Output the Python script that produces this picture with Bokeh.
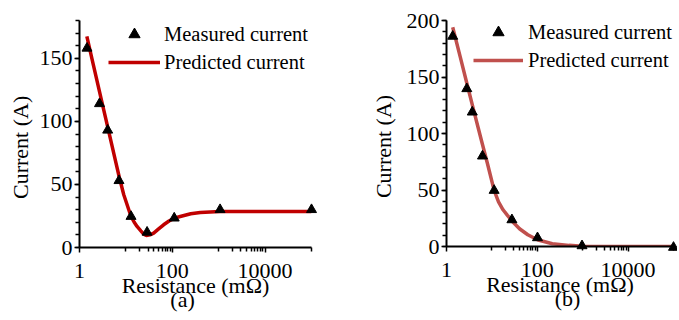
import math
from bokeh.plotting import figure
from bokeh.layouts import row
from bokeh.models import Range1d, FixedTicker, Legend, LegendItem
from bokeh.core.properties import value
from bokeh.embed import file_html
from bokeh.resources import INLINE

# ---- data ----
x_ticks = [1, 100, 10000]
x_tick_labels = ["1", "100", "10000"]

# panel (a)
a_meas_x = [1.45, 2.7, 4.05, 7.1, 12.9, 28.6, 110, 1070, 100000]
a_meas_y = [158, 114, 93, 53, 24.6, 12.1, 23.3, 30, 30]
a_pred_x = [1.44, 2.0, 3.0, 4.0, 5.0, 6.0, 7.14, 9.0, 12.9, 15, 17.4, 21, 24.2, 27.6,
            33, 39.7, 50, 65, 85, 110, 148, 250, 400, 1070, 10000, 100000]
a_pred_y = [167.5, 144.4, 116.3, 96.4, 81, 68.3, 56.3, 41.8, 24.6, 20.2, 16.7, 13.2, 10.6, 9.5,
            10.0, 11.4, 14.5, 18, 21, 23.3, 24.6, 26.8, 27.8, 28.6, 28.6, 28.6]

# panel (b)
b_meas_x = [1.37, 2.8, 3.7, 6.2, 11.2, 27.6, 101, 966, 100000]
b_meas_y = [186, 139.6, 118.9, 80, 49.6, 23.6, 7.7, 0.6, -0.8]
b_pred_x = [1.37, 2.0, 3.0, 4.0, 5.0, 6.0, 8.0, 11.2, 14, 17.6, 22, 27.6, 40.6, 61.7,
            101, 214, 500, 1000, 10000, 100000]
b_pred_y = [194, 168, 139.8, 120, 104.9, 92.5, 73.2, 49.6, 39.5, 32.5, 27.5, 22.6, 15.7, 10.4,
            6.0, 2.4, 1.0, 0.3, 0, 0]

FONT = "Liberation Serif"
TICK_FS = "22px"
LABEL_FS = "22px"
LEG_FS = "20.5px"
FIG_H = 312


def make_panel(meas_x, meas_y, pred_x, pred_y, line_color, y_max, y_major,
               fig_w, border_left, frame_w, frame_top, frame_h,
               leg_x, leg_top, glyph_w, standoff,
               ylabel_x, ylabel_y, letter, letter_x, letter_y):
    p = figure(x_axis_type="log", x_range=Range1d(1, 100000), y_range=Range1d(0, y_max),
               frame_width=frame_w, frame_height=frame_h,
               min_border_left=border_left, min_border_right=fig_w - border_left - frame_w,
               min_border_top=frame_top, min_border_bottom=FIG_H - frame_top - frame_h,
               output_backend="svg", toolbar_location=None)
    p.outline_line_color = None
    p.grid.visible = False
    p.background_fill_color = "white"
    p.border_fill_color = "white"

    minor_x = [10 * k for k in range(1, 10)] + [1000 * k for k in range(1, 10)] + [100000]
    p.xaxis.ticker = FixedTicker(ticks=x_ticks, minor_ticks=minor_x)
    p.xaxis.major_label_overrides = {t: l for t, l in zip(x_ticks, x_tick_labels)}
    p.yaxis.ticker = FixedTicker(ticks=y_major, minor_ticks=list(range(0, y_max + 1, 10)))

    for ax in (p.xaxis[0], p.yaxis[0]):
        ax.axis_line_color = "black"
        ax.axis_line_width = 2
        ax.major_tick_line_color = "black"
        ax.minor_tick_line_color = "black"
        ax.major_tick_line_width = 1.5
        ax.minor_tick_line_width = 1.5
        ax.major_tick_in = 0
        ax.minor_tick_in = 0
        ax.major_tick_out = 5
        ax.minor_tick_out = 4
        ax.major_label_text_font = FONT
        ax.major_label_text_font_size = TICK_FS
        ax.major_label_text_color = "black"
        ax.axis_label_text_font = FONT
        ax.axis_label_text_font_size = LABEL_FS
        ax.axis_label_text_font_style = "normal"
        ax.axis_label_text_color = "black"
    p.yaxis.major_label_standoff = 2
    p.xaxis.major_label_standoff = 11
    p.xaxis.axis_label = "Resistance (mΩ)"
    p.xaxis.axis_label_standoff = -8

    line = p.line(pred_x, pred_y, line_color=line_color, line_width=3.5)
    pts = p.scatter(meas_x, meas_y, marker="triangle", size=10, fill_color="black",
                    line_color="black", level="overlay")

    legend = Legend(items=[LegendItem(label="Measured current", renderers=[pts]),
                           LegendItem(label="Predicted current", renderers=[line])],
                    location=(leg_x, frame_h - leg_top - 56), orientation="vertical",
                    background_fill_alpha=0, border_line_alpha=0,
                    padding=0, margin=0, spacing=0,
                    glyph_width=glyph_w, glyph_height=28, label_height=28,
                    label_standoff=standoff,
                    label_text_font=FONT, label_text_font_size=LEG_FS, label_text_color="black")
    p.add_layout(legend, "center")

    # y-axis title (rotated), placed like the reference
    p.text(x=[ylabel_x], y=[ylabel_y], text=["Current (A)"], angle=math.pi / 2,
           text_align="center", text_baseline="middle", text_font=value(FONT),
           text_font_size=LABEL_FS, text_color="black", level="overlay")
    # sub-figure caption below the axis title
    p.text(x=[letter_x], y=[letter_y], text=[letter], text_align="center",
           text_baseline="middle", text_font=value(FONT), text_font_size=LABEL_FS,
           text_color="black", level="overlay")
    return p


pa = make_panel(a_meas_x, a_meas_y, a_pred_x, a_pred_y, "#C00000", 180, [0, 50, 100, 150],
                fig_w=320, border_left=79, frame_w=232, frame_top=19, frame_h=227,
                leg_x=29, leg_top=0, glyph_w=52, standoff=4,
                ylabel_x=0.0535, ylabel_y=79.4,
                letter="(a)", letter_x=166, letter_y=-41)
pb = make_panel(b_meas_x, b_meas_y, b_pred_x, b_pred_y, "#C0504D", 200, [0, 50, 100, 150, 200],
                fig_w=357, border_left=126, frame_w=227, frame_top=20, frame_h=226,
                leg_x=27, leg_top=-2, glyph_w=50, standoff=5,
                ylabel_x=0.041, ylabel_y=88.5,
                letter="(b)", letter_x=462, letter_y=-46)

layout = row(pa, pb, spacing=0)
open("out.html", "w").write(file_html(layout, INLINE))
